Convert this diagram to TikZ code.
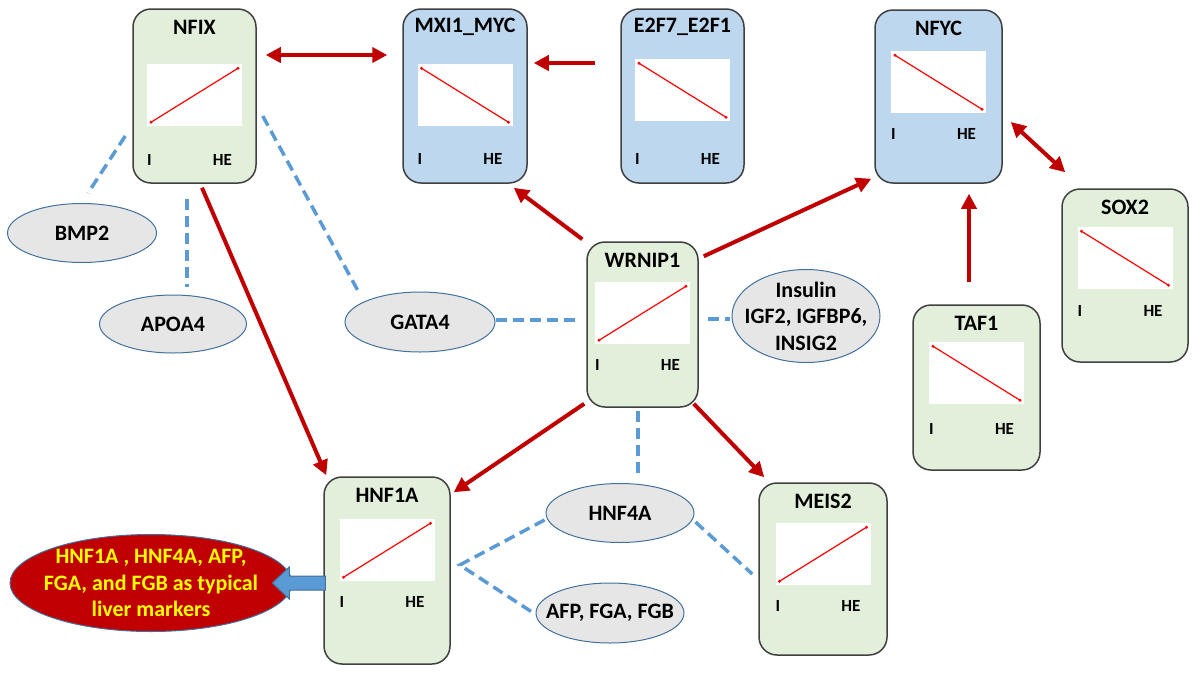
\documentclass[tikz,border=0pt]{standalone}
\usepackage{fontspec}
\setmainfont{Carlito}
\usetikzlibrary{shapes.geometric,arrows.meta}

\definecolor{boxgreen}{HTML}{E2EFDA}
\definecolor{boxblue}{HTML}{BDD7EE}
\definecolor{boxborder}{HTML}{404040}
\definecolor{darkred}{HTML}{C00000}
\definecolor{linkblue}{HTML}{5B9BD5}
\definecolor{ellgray}{HTML}{E7E6E6}
\definecolor{ellborder}{HTML}{41719C}
\definecolor{markeryellow}{HTML}{FFFF00}

\begin{document}
\begin{tikzpicture}
[x=1pt,y=-1pt,
  geneDecorate/.style={shape=rectangle,rounded corners=18pt,draw=boxborder,line width=1.5pt,inner sep=0pt},%
  titleDecorate/.style={font=\fontsize{22}{26}\selectfont\bfseries},%
  axisDecorate/.style={font=\fontsize{17}{20}\selectfont\bfseries},%
  trendDecorate/.style={red,line width=1.2pt},%
  assocDecorate/.style={shape=ellipse,draw=ellborder,line width=1pt,fill=ellgray,inner sep=0pt},%
  assocText/.style={font=\fontsize{22}{26.5}\selectfont\bfseries,align=center},%
  regDecorate/.style={draw=darkred,line width=4pt,>={Triangle[length=15pt,width=15pt]}},%
  linkDecorate/.style={draw=linkblue,line width=3.5pt,dash pattern=on 11pt off 6pt}]
\useasboundingbox (0,0) rectangle (1192,675);
%% gene boxes with their small plots
\foreach \nodename/\lbl/\x/\y/\w/\h/\col/\py/\ly/\sa/\sb in
  {nfix/NFIX/194.5/96/123/174/boxgreen/56/152/58/4,
   mxi/MXI1\_MYC/465/96/124/174/boxblue/56/151/4/58,
   e2f/E2F7\_E2F1/682.5/96/123/174/boxblue/51/151/4/58,
   nfyc/NFYC/938.5/96.5/127/173/boxblue/42/125/4/58,
   sox/SOX2/1125/275.5/126/173/boxgreen/39/123/4/58,
   wrnip/WRNIP1/642.5/324.5/111/165/boxgreen/41/124/58/4,
   taf/TAF1/976.5/387.5/127/165/boxgreen/38/125/4/58,
   hnfa/HNF1A/387/570.5/126/187/boxgreen/43/126/58/4,
   meis/MEIS2/823/569/128/172/boxgreen/41/124/58/4}
{
  \node (\nodename) at (\x,\y) [geneDecorate,fill=\col,minimum width=\w,minimum height=\h] {};
  \node[titleDecorate] at ([yshift=-19]\nodename.north) {\lbl};
  \coordinate (\nodename-p) at ([yshift=-\py]\nodename.north);
  \fill[white] ([xshift=-47.5]\nodename-p) rectangle ([xshift=47.5,yshift=-62]\nodename-p);
  \draw[trendDecorate] ([shift={(-43.5,\sa)}]\nodename-p) coordinate (\nodename-a)
    -- ([shift={(43.5,\sb)}]\nodename-p) coordinate (\nodename-b);
  \fill[red] (\nodename-a) circle (1.7) (\nodename-b) circle (1.7);
  \node[axisDecorate] at ([shift={(-45,\ly)}]\nodename.north) {I};
  \node[axisDecorate] at ([shift={(28,\ly)}]\nodename.north) {HE};
}
%% associated genes
\foreach \nodename/\x/\y/\w/\h/\txt in
  {bmp/82/233/149/59/BMP2, apoa/173/324/147/58/APOA4, gata/420/322/150/60/GATA4,
   hnfd/620/513/148/59/HNF4A, afp/610/613/148/60/{AFP, FGA, FGB}}
{
  \node (\nodename) at (\x,\y) [assocDecorate,minimum width=\w,minimum height=\h] {};
  \node[assocText] at (\nodename) {\txt};
}
\node (ins) at (806,316) [assocDecorate,minimum width=148,minimum height=93] {};
\node[assocText] at (ins) {Insulin\\IGF2, IGFBP6,\\INSIG2};
\node (liver) at (151,583) [assocDecorate,fill=darkred,minimum width=282,minimum height=97] {};
\node[assocText,text=markeryellow] at (liver) {HNF1A , HNF4A, AFP,\\FGA, and FGB as typical\\liver markers};
%% regulation arrows
\draw[regDecorate,<->] ([shift={(9,-41)}]nfix.east) -- ([shift={(-15,-41)}]mxi.west);
\draw[regDecorate,->] ([shift={(-25,-33)}]e2f.west) -- ([shift={(6,-33)}]mxi.east);
\draw[regDecorate,->] ([shift={(-4,-2)}]wrnip.north west) -- ([shift={(-14,4)}]mxi.south east);
\draw[regDecorate,->] ([shift={(5,15)}]wrnip.north east) -- ([shift={(-3,-5)}]nfyc.south west);
\draw[regDecorate,->] ([shift={(-7.5,-22)}]taf.north) -- ([shift={(30.5,10)}]nfyc.south);
\draw[regDecorate,<->] ([shift={(8,25.5)}]nfyc.east) -- ([shift={(4,-16)}]sox.north west);
\draw[regDecorate,->] ([shift={(7.5,4)}]nfix.south) -- ([shift={(3,-1)}]hnfa.north west);
\draw[regDecorate,->] ([shift={(-2,-4)}]wrnip.south west) -- ([shift={(3,16)}]hnfa.north east);
\draw[regDecorate,->] ([shift={(-5,-4)}]wrnip.south east) -- ([shift={(6,-5)}]meis.north west);
%% associations
\draw[linkDecorate] ([shift={(-7,40)}]nfix.west) -- ([shift={(6,-10)}]bmp.north);
\draw[linkDecorate] ([shift={(-7.5,15)}]nfix.south) -- ([shift={(14,-8)}]apoa.north);
\draw[linkDecorate] ([shift={(6,20)}]nfix.east) -- ([shift={(-60,3)}]gata.north);
\draw[linkDecorate] ([shift={(0,-2)}]gata.east) -- ([shift={(-6,-4.5)}]wrnip.west);
\draw[linkDecorate] ([shift={(9,-5.5)}]wrnip.east) -- ([shift={(-2,3)}]ins.west);
\draw[linkDecorate] ([shift={(-4.5,3)}]wrnip.south) -- ([shift={(18,-8)}]hnfd.north);
\coordinate (fork) at ([shift={(9,-5.5)}]hnfa.east);
\draw[linkDecorate] ([shift={(-1,7)}]hnfd.west) -- (fork) -- ([shift={(-2,0)}]afp.west);
\draw[linkDecorate] ([shift={(1,9)}]hnfd.east) -- ([shift={(-6,5)}]meis.west);
%% marker arrow
\draw[fill=linkblue,draw=ellborder,line width=1pt] ([shift={(2,5.5)}]hnfa.west)
  -- ++(-36,0) -- ++(0,-9) -- ++(-17,16) -- ++(17,16) -- ++(0,-9) -- ++(36,0) -- cycle;
\end{tikzpicture}
\end{document}
